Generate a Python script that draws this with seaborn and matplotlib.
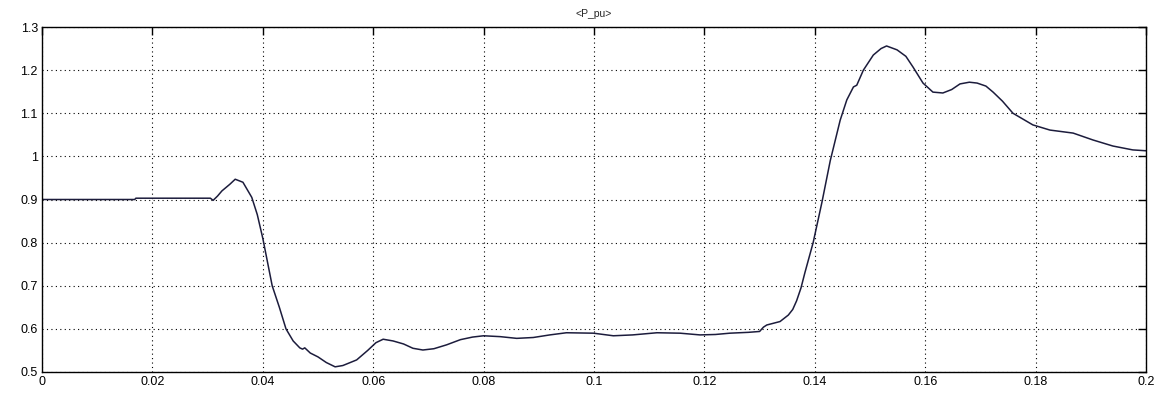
import matplotlib
matplotlib.use("Agg")
import matplotlib.pyplot as plt
import seaborn as sns
import pandas as pd

t = [0.0, 0.0168, 0.0170, 0.0305, 0.0310, 0.0318, 0.0326, 0.0340, 0.0350, 0.0364,
     0.0380, 0.0390, 0.0400, 0.0417, 0.0430, 0.0442, 0.0455, 0.0467, 0.0472, 0.0476,
     0.0486, 0.0500, 0.0515, 0.0531, 0.0545, 0.0570, 0.0590, 0.0605, 0.0618, 0.0636,
     0.0655, 0.0672, 0.0690, 0.0710, 0.0733, 0.0758, 0.0780, 0.0800, 0.0830, 0.0860,
     0.0890, 0.0920, 0.0950, 0.0999, 0.1035, 0.1070, 0.1114, 0.1156, 0.1192, 0.1220,
     0.1246, 0.1280, 0.1300, 0.1307, 0.1313, 0.1337, 0.1352, 0.1360, 0.1367, 0.1375,
     0.1382, 0.1397, 0.1413, 0.1428, 0.1446, 0.1458, 0.1470, 0.1476, 0.1488, 0.1506,
     0.1520, 0.1530, 0.1549, 0.1565, 0.1578, 0.1596, 0.1614, 0.1632, 0.1648, 0.1663,
     0.1680, 0.1694, 0.1710, 0.1723, 0.1740, 0.1759, 0.1795, 0.1826, 0.1868, 0.1904,
     0.1940, 0.1976, 0.2000]
p_pu = [0.900, 0.900, 0.903, 0.903, 0.898, 0.908, 0.920, 0.935, 0.947, 0.940,
        0.905, 0.865, 0.810, 0.700, 0.650, 0.600, 0.572, 0.556, 0.553, 0.556,
        0.544, 0.535, 0.522, 0.512, 0.515, 0.528, 0.550, 0.568, 0.576, 0.572,
        0.565, 0.555, 0.551, 0.554, 0.563, 0.575, 0.581, 0.584, 0.582, 0.578,
        0.580, 0.586, 0.591, 0.590, 0.584, 0.586, 0.591, 0.590, 0.586, 0.587,
        0.590, 0.592, 0.594, 0.604, 0.609, 0.617, 0.632, 0.645, 0.665, 0.695,
        0.730, 0.800, 0.894, 0.990, 1.084, 1.131, 1.161, 1.165, 1.200, 1.235,
        1.250, 1.256, 1.247, 1.232, 1.207, 1.170, 1.149, 1.147, 1.155, 1.168,
        1.172, 1.170, 1.163, 1.149, 1.128, 1.100, 1.073, 1.061, 1.054, 1.038,
        1.024, 1.015, 1.013]

xticks = [0, 0.02, 0.04, 0.06, 0.08, 0.1, 0.12, 0.14, 0.16, 0.18, 0.2]
xlabels = ["0", "0.02", "0.04", "0.06", "0.08", "0.1", "0.12", "0.14", "0.16", "0.18", "0.2"]
yticks = [0.5, 0.6, 0.7, 0.8, 0.9, 1.0, 1.1, 1.2, 1.3]
ylabels = ["0.5", "0.6", "0.7", "0.8", "0.9", "1", "1.1", "1.2", "1.3"]

df = pd.DataFrame({"t": t, "P_pu": p_pu})

sns.set_style("white")
plt.rcParams['font.family'] = ['Liberation Sans', 'DejaVu Sans']

fig = plt.figure(figsize=(11.65, 3.95), dpi=100)
ax = fig.add_axes([42/1165, 1 - 372/395, (1146-42)/1165, (372-27)/395])

sns.lineplot(data=df, x="t", y="P_pu", ax=ax, color="#1c1c3c", linewidth=1.1, estimator=None)

ax.set_xlim(0, 0.2)
ax.set_ylim(0.5, 1.3)
ax.set_xticks(xticks)
ax.set_xticklabels(xlabels)
ax.set_yticks(yticks)
ax.set_yticklabels(ylabels)
ax.set_xlabel("")
ax.set_ylabel("")
ax.grid(True, color="black", linestyle=(0, (1, 3)), linewidth=0.8)
ax.tick_params(direction="in", length=6, width=1, top=True, right=True,
               labelsize=9, colors="black", pad=3)
for s in ax.spines.values():
    s.set_color("black")
    s.set_linewidth(1.0)
ax.set_title("<P_pu>", fontsize=7.5, pad=7)

fig.savefig("out.png", dpi=100)
